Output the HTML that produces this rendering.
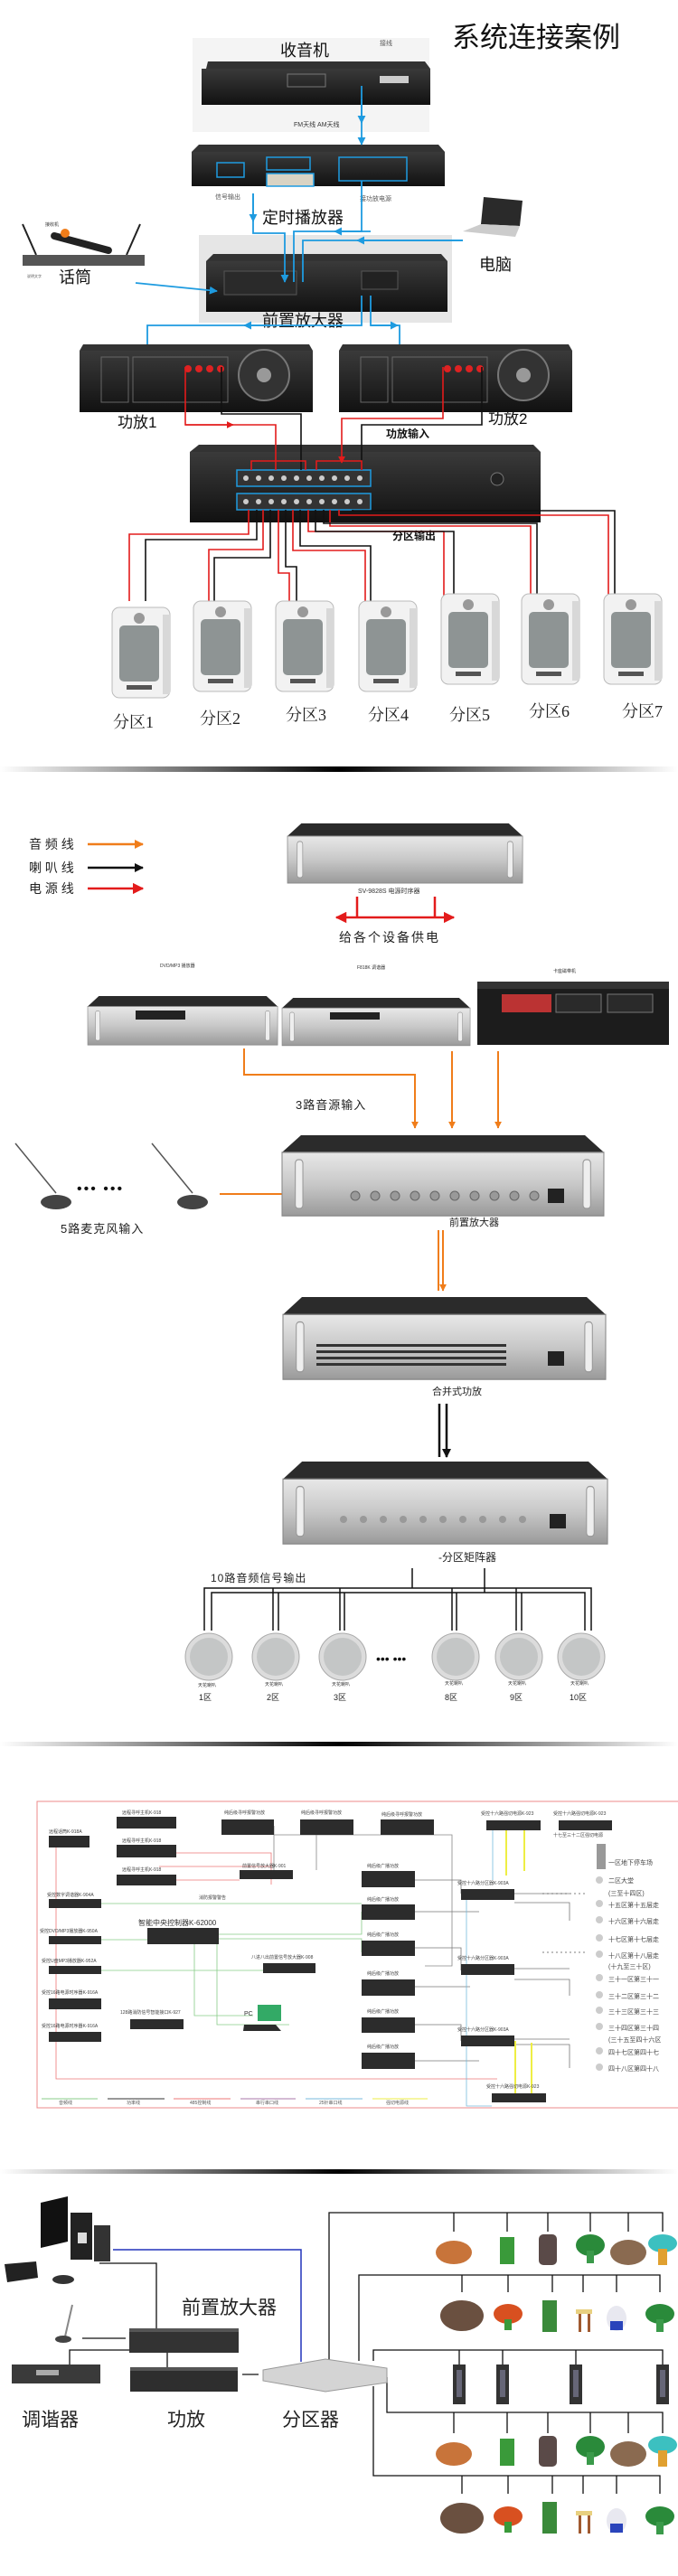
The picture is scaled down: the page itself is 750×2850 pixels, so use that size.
<!DOCTYPE html>
<html><head><meta charset="utf-8"><style>
html,body{margin:0;padding:0;background:#fff}
svg{display:block}
text{font-family:"Liberation Sans","Noto Sans CJK SC",sans-serif}
.s{font-family:"Liberation Serif","Noto Serif CJK SC",serif}
</style></head><body>
<svg width="750" height="2850" viewBox="0 0 750 2850" xmlns="http://www.w3.org/2000/svg">
<defs>
<linearGradient id="sep" x1="0" x2="1"><stop offset="0" stop-color="#fff"/><stop offset="0.5" stop-color="#000"/><stop offset="1" stop-color="#fff"/></linearGradient>
<linearGradient id="silver" x1="0" y1="0" x2="0" y2="1"><stop offset="0" stop-color="#e8e8e8"/><stop offset="0.5" stop-color="#c8c8c8"/><stop offset="1" stop-color="#9a9a9a"/></linearGradient>
<linearGradient id="dark" x1="0" y1="0" x2="0" y2="1"><stop offset="0" stop-color="#3a3a3a"/><stop offset="1" stop-color="#111"/></linearGradient>
<marker id="ab" viewBox="0 0 10 10" refX="9" refY="5" markerWidth="5" markerHeight="5" orient="auto"><path d="M0,0L10,5L0,10z" fill="#1e9be0"/></marker>
<marker id="ar" viewBox="0 0 10 10" refX="9" refY="5" markerWidth="5" markerHeight="5" orient="auto"><path d="M0,0L10,5L0,10z" fill="#e31b1b"/></marker>
<marker id="ao" viewBox="0 0 10 10" refX="9" refY="5" markerWidth="4" markerHeight="4" orient="auto"><path d="M0,0L10,5L0,10z" fill="#f07d1a"/></marker>
<marker id="ak" viewBox="0 0 10 10" refX="9" refY="5" markerWidth="4" markerHeight="4" orient="auto"><path d="M0,0L10,5L0,10z" fill="#111"/></marker>
<g id="spk"><rect x="0" y="0" width="64" height="100" rx="8" fill="#f2f2f2" stroke="#bbb"/><rect x="8" y="20" width="44" height="62" rx="5" fill="#8e9494"/><circle cx="30" cy="12" r="6" fill="#999"/><rect x="16" y="86" width="28" height="5" fill="#555"/><rect x="56" y="8" width="8" height="88" fill="#d8d8d8"/></g>
<g id="silverRack"><polygon points="20,0 320,0 340,14 0,14" fill="#2b2b2b"/><rect x="0" y="14" width="340" height="52" fill="url(#silver)" stroke="#888"/><rect x="14" y="20" width="8" height="40" rx="3" fill="#eee" stroke="#999"/><rect x="318" y="20" width="8" height="40" rx="3" fill="#eee" stroke="#999"/></g>
<g id="ceil"><circle r="26" fill="#dcdcdc" stroke="#aaa"/><circle r="21" fill="#c4c6c6"/></g>
</defs>

<!-- ===== Section 1 ===== -->
<text x="500" y="52" font-size="31" fill="#111">系统连接案例</text>
<rect x="213" y="42" width="262" height="104" fill="#f4f4f4"/>
<text x="310" y="62" font-size="18" fill="#111">收音机</text>
<text x="420" y="50" font-size="7" fill="#555">接线</text>
<polygon points="230,68 470,68 476,76 228,76" fill="#333"/>
<rect x="223" y="76" width="253" height="40" fill="url(#dark)"/>
<rect x="318" y="82" width="42" height="14" fill="none" stroke="#777"/>
<rect x="420" y="84" width="32" height="8" fill="#ccc"/>
<text x="325" y="140" font-size="7" fill="#333">FM天线  AM天线</text>
<polygon points="220,160 485,160 492,168 212,168" fill="#333"/>
<rect x="212" y="168" width="280" height="38" fill="url(#dark)"/>
<rect x="295" y="174" width="48" height="14" fill="none" stroke="#1e9be0" stroke-width="1.5"/>
<rect x="295" y="192" width="52" height="14" fill="#d9d3c3" stroke="#1e9be0" stroke-width="1.5"/>
<rect x="375" y="174" width="75" height="26" fill="none" stroke="#1e9be0" stroke-width="1.5"/>
<rect x="240" y="180" width="30" height="16" fill="none" stroke="#1e9be0" stroke-width="1.5"/>
<text x="238" y="220" font-size="7" fill="#555">信号输出</text>
<text x="398" y="222" font-size="7" fill="#555">接功放电源</text>
<text x="290" y="247" font-size="18" fill="#111">定时播放器</text>
<rect x="220" y="260" width="280" height="97" fill="#e6e6e6"/>
<polygon points="236,281 488,281 495,289 228,289" fill="#333"/>
<rect x="228" y="289" width="267" height="56" fill="url(#dark)"/>
<rect x="248" y="300" width="80" height="26" fill="#2a2a2a" stroke="#555"/>
<rect x="400" y="300" width="40" height="20" fill="#222" stroke="#555"/>
<text x="290" y="361" font-size="18" fill="#111">前置放大器</text>
<!-- mic receiver -->
<line x1="25" y1="248" x2="40" y2="282" stroke="#222" stroke-width="2"/>
<line x1="155" y1="248" x2="140" y2="282" stroke="#222" stroke-width="2"/>
<rect x="25" y="282" width="135" height="12" fill="#555"/>
<rect x="55" y="265" width="70" height="8" rx="4" fill="#222" transform="rotate(15 90 269)"/>
<circle cx="72" cy="258" r="5" fill="#f07d1a"/>
<text x="50" y="250" font-size="5" fill="#333">接收机</text>
<text x="65" y="313" font-size="18" fill="#111">话筒</text>
<text x="30" y="307" font-size="4" fill="#555">说明文字</text>
<!-- laptop -->
<polygon points="535,218 578,222 575,250 532,248" fill="#2a2a2a"/>
<polygon points="512,256 532,248 575,250 570,262" fill="#ccc"/>
<text x="530" y="299" font-size="18" fill="#111">电脑</text>
<!-- blue wiring -->
<g stroke="#1e9be0" stroke-width="1.8" fill="none">
<path d="M400,95V160" marker-end="url(#ab)"/><path d="M400,110V136" marker-end="url(#ab)"/>
<path d="M280,214V258H315V312" marker-end="url(#ab)"/>
<path d="M280,214V245" marker-end="url(#ab)"/>
<path d="M400,200V256H325V312"/>
<path d="M512,266H335V312"/>
<path d="M150,313L240,322" marker-end="url(#ab)"/>
<path d="M400,327V360H163V405"/><path d="M300,360H270" marker-end="url(#ab)"/>
<path d="M410,327V360H442V405"/><path d="M410,360H440" marker-end="url(#ab)"/>
<path d="M410,256H370" marker-end="url(#ab)"/><path d="M512,266H395" marker-end="url(#ab)"/>
</g>
<!-- amps -->
<g>
<polygon points="92,381 342,381 346,388 88,388" fill="#333"/>
<rect x="88" y="388" width="258" height="68" fill="url(#dark)"/>
<rect x="112" y="395" width="30" height="50" fill="none" stroke="#666"/>
<rect x="147" y="395" width="105" height="50" fill="none" stroke="#666"/>
<circle cx="208" cy="408" r="4" fill="#d22"/><circle cx="220" cy="408" r="4" fill="#d22"/><circle cx="232" cy="408" r="4" fill="#d22"/><circle cx="244" cy="408" r="4" fill="#d22"/>
<circle cx="292" cy="415" r="28" fill="#333" stroke="#777" stroke-width="2"/><circle cx="292" cy="415" r="8" fill="#999"/>
</g>
<g transform="translate(287,0)">
<polygon points="92,381 342,381 346,388 88,388" fill="#333"/>
<rect x="88" y="388" width="258" height="68" fill="url(#dark)"/>
<rect x="112" y="395" width="30" height="50" fill="none" stroke="#666"/>
<rect x="147" y="395" width="105" height="50" fill="none" stroke="#666"/>
<circle cx="208" cy="408" r="4" fill="#d22"/><circle cx="220" cy="408" r="4" fill="#d22"/><circle cx="232" cy="408" r="4" fill="#d22"/><circle cx="244" cy="408" r="4" fill="#d22"/>
<circle cx="292" cy="415" r="28" fill="#333" stroke="#777" stroke-width="2"/><circle cx="292" cy="415" r="8" fill="#999"/>
</g>
<text x="130" y="473" font-size="17" fill="#111">功放1</text>
<text x="540" y="469" font-size="17" fill="#111">功放2</text>
<text x="427" y="484" font-size="12" font-weight="bold" fill="#111">功放输入</text>
<!-- zone box -->
<polygon points="220,492 590,492 598,500 210,500" fill="#333"/>
<rect x="210" y="500" width="388" height="78" fill="url(#dark)"/>
<rect x="262" y="520" width="148" height="18" fill="#333" stroke="#1e9be0" stroke-width="1.5"/>
<rect x="262" y="546" width="148" height="18" fill="#333" stroke="#1e9be0" stroke-width="1.5"/>
<g fill="#ccc"><circle cx="272" cy="529" r="3"/><circle cx="286" cy="529" r="3"/><circle cx="300" cy="529" r="3"/><circle cx="314" cy="529" r="3"/><circle cx="328" cy="529" r="3"/><circle cx="342" cy="529" r="3"/><circle cx="356" cy="529" r="3"/><circle cx="370" cy="529" r="3"/><circle cx="384" cy="529" r="3"/><circle cx="398" cy="529" r="3"/>
<circle cx="272" cy="555" r="3"/><circle cx="286" cy="555" r="3"/><circle cx="300" cy="555" r="3"/><circle cx="314" cy="555" r="3"/><circle cx="328" cy="555" r="3"/><circle cx="342" cy="555" r="3"/><circle cx="356" cy="555" r="3"/><circle cx="370" cy="555" r="3"/><circle cx="384" cy="555" r="3"/><circle cx="398" cy="555" r="3"/></g>
<circle cx="550" cy="530" r="7" fill="#222" stroke="#777"/>
<text x="434" y="597" font-size="12" font-weight="bold" fill="#111">分区输出</text>
<!-- amp->zone -->
<g fill="none" stroke-width="1.6">
<path d="M205,406V470H305V520" stroke="#e31b1b"/><path d="M205,470H258" stroke="#e31b1b" marker-end="url(#ar)"/>
<path d="M245,406V458H333V520" stroke="#111"/>
<path d="M490,406V463H378V512" stroke="#e31b1b" marker-end="url(#ar)"/>
<path d="M533,406V470H400V520" stroke="#111"/>
<path d="M278,520V510H338V520M350,520V510H400V520" stroke="#e31b1b"/>
</g>
<!-- zone->speakers -->
<g fill="none" stroke-width="1.6">
<path d="M275,564V591H143V665" stroke="#e31b1b"/><path d="M284,564V597H161V665" stroke="#111"/>
<path d="M291,564V608H231V672" stroke="#e31b1b"/><path d="M299,564V617H237V672" stroke="#111"/>
<path d="M308,564V634H320V678" stroke="#e31b1b"/><path d="M316,564V627H328V678" stroke="#111"/>
<path d="M324,564V609H404V678" stroke="#e31b1b"/><path d="M332,564V604H410V678" stroke="#111"/>
<path d="M341,564V588H491V665" stroke="#e31b1b"/><path d="M349,564V588H502V665" stroke="#111"/>
<path d="M365,564V582H587V665" stroke="#e31b1b"/><path d="M358,564V579H594V665" stroke="#111"/>
<path d="M375,564V570H673V665" stroke="#e31b1b"/><path d="M390,564V565H680V665" stroke="#111"/>
</g>
<use href="#spk" x="124" y="672"/><use href="#spk" x="214" y="665"/><use href="#spk" x="305" y="665"/><use href="#spk" x="397" y="665"/><use href="#spk" x="488" y="657"/><use href="#spk" x="577" y="657"/><use href="#spk" x="668" y="657"/>
<g class="s" font-size="18" fill="#222">
<text x="125" y="805" class="s">分区1</text><text x="221" y="801" class="s">分区2</text><text x="316" y="797" class="s">分区3</text><text x="407" y="797" class="s">分区4</text><text x="497" y="797" class="s">分区5</text><text x="585" y="793" class="s">分区6</text><text x="688" y="793" class="s">分区7</text>
</g>
<rect x="0" y="848" width="750" height="6" fill="url(#sep)"/>

<!-- ===== Section 2 ===== -->
<g font-size="14" fill="#222">
<text x="32" y="939">音 频 线</text><text x="32" y="965">喇 叭 线</text><text x="32" y="988">电 源 线</text>
</g>
<line x1="97" y1="934" x2="158" y2="934" stroke="#f07d1a" stroke-width="2.5" marker-end="url(#ao)"/>
<line x1="97" y1="960" x2="158" y2="960" stroke="#111" stroke-width="2.5" marker-end="url(#ak)"/>
<line x1="97" y1="983" x2="158" y2="983" stroke="#e31b1b" stroke-width="2.5" marker-end="url(#ar)"/>
<use href="#silverRack" transform="translate(318,911) scale(0.765,1)"/>
<text x="396" y="988" font-size="7" fill="#333">SV-9828S  电源时序器</text>
<g stroke="#e31b1b" stroke-width="2.5" fill="none"><path d="M395,992V1015M481,992V1015"/><path d="M438,1015H372" marker-end="url(#ar)"/><path d="M438,1015H502" marker-end="url(#ar)"/></g>
<text x="375" y="1042" font-size="14" fill="#222" letter-spacing="2">给各个设备供电</text>
<use href="#silverRack" transform="translate(97,1102) scale(0.618,0.82)"/>
<rect x="150" y="1118" width="55" height="10" fill="#222"/>
<use href="#silverRack" transform="translate(312,1104) scale(0.612,0.8)"/>
<rect x="365" y="1120" width="55" height="8" fill="#222"/>
<rect x="528" y="1086" width="212" height="8" fill="#333"/><rect x="528" y="1094" width="212" height="62" fill="#1c1c1c"/>
<rect x="555" y="1100" width="55" height="20" fill="#b33"/><rect x="615" y="1100" width="50" height="20" fill="#2a2a2a" stroke="#777"/><rect x="672" y="1100" width="50" height="20" fill="#2a2a2a" stroke="#777"/>
<g font-size="5" fill="#333"><text x="177" y="1070">DVD/MP3 播放器</text><text x="395" y="1072">F818K 调谐器</text><text x="612" y="1076">卡座磁带机</text></g>
<g stroke="#f07d1a" stroke-width="2" fill="none">
<path d="M270,1160V1189H459V1248" marker-end="url(#ao)"/><path d="M500,1163V1248" marker-end="url(#ao)"/><path d="M551,1163V1248" marker-end="url(#ao)"/>
<path d="M243,1321H363" marker-end="url(#ao)"/>
<path d="M485,1361V1428M490,1361V1428" marker-end="url(#ao)"/>
</g>
<text x="327" y="1227" font-size="13" fill="#222" letter-spacing="1">3路音源输入</text>
<use href="#silverRack" transform="translate(312,1256) scale(1.047,1.35)"/>
<g fill="#999" stroke="#666"><circle cx="393" cy="1323" r="5"/><circle cx="415" cy="1323" r="5"/><circle cx="437" cy="1323" r="5"/><circle cx="459" cy="1323" r="5"/><circle cx="481" cy="1323" r="5"/><circle cx="503" cy="1323" r="5"/><circle cx="525" cy="1323" r="5"/><circle cx="547" cy="1323" r="5"/><circle cx="569" cy="1323" r="5"/><circle cx="591" cy="1323" r="5"/></g>
<rect x="606" y="1315" width="18" height="16" fill="#222"/>
<text x="497" y="1356" font-size="11" fill="#222">前置放大器</text>
<g><line x1="17" y1="1265" x2="62" y2="1320" stroke="#555" stroke-width="1.5"/><ellipse cx="62" cy="1330" rx="17" ry="8" fill="#444"/>
<line x1="168" y1="1265" x2="213" y2="1320" stroke="#555" stroke-width="1.5"/><ellipse cx="213" cy="1330" rx="17" ry="8" fill="#444"/></g>
<text x="85" y="1320" font-size="16" fill="#111" letter-spacing="2">•••  •••</text>
<text x="67" y="1364" font-size="13" fill="#222" letter-spacing="1">5路麦克风输入</text>
<use href="#silverRack" transform="translate(313,1435) scale(1.05,1.38)"/>
<g fill="#333"><rect x="350" y="1487" width="210" height="3"/><rect x="350" y="1494" width="210" height="3"/><rect x="350" y="1501" width="210" height="3"/><rect x="350" y="1508" width="210" height="3"/></g>
<rect x="606" y="1495" width="18" height="16" fill="#222"/>
<text x="478" y="1543" font-size="11" fill="#222">合并式功放</text>
<g stroke="#111" stroke-width="2.5" fill="none"><path d="M486,1553V1612M494,1553V1612" marker-end="url(#ak)"/></g>
<use href="#silverRack" transform="translate(313,1617) scale(1.056,1.38)"/>
<g fill="#999"><circle cx="380" cy="1681" r="4"/><circle cx="402" cy="1681" r="4"/><circle cx="424" cy="1681" r="4"/><circle cx="446" cy="1681" r="4"/><circle cx="468" cy="1681" r="4"/><circle cx="490" cy="1681" r="4"/><circle cx="512" cy="1681" r="4"/><circle cx="534" cy="1681" r="4"/><circle cx="556" cy="1681" r="4"/><circle cx="578" cy="1681" r="4"/></g>
<rect x="608" y="1675" width="18" height="16" fill="#222"/>
<text x="485" y="1727" font-size="12" fill="#222">-分区矩阵器</text>
<text x="233" y="1750" font-size="12" fill="#222" letter-spacing="1">10路音频信号输出</text>
<g stroke="#111" stroke-width="1.5" fill="none">
<path d="M456,1735V1757M536,1735V1762"/>
<path d="M226,1804V1757H654V1804M234,1804V1762H647V1804"/>
<path d="M302,1757V1804M308,1762V1804M376,1757V1804M381,1762V1804M500,1757V1804M505,1762V1804M571,1757V1804M577,1762V1804"/>
</g>
<use href="#ceil" x="231" y="1833"/><use href="#ceil" x="305" y="1833"/><use href="#ceil" x="379" y="1833"/><use href="#ceil" x="504" y="1833"/><use href="#ceil" x="574" y="1833"/><use href="#ceil" x="643" y="1833"/>
<text x="416" y="1840" font-size="14" fill="#111">••• •••</text>
<g font-size="5" fill="#333"><text x="219" y="1866">天花喇叭</text><text x="293" y="1865">天花喇叭</text><text x="367" y="1865">天花喇叭</text><text x="492" y="1864">天花喇叭</text><text x="562" y="1864">天花喇叭</text><text x="631" y="1864">天花喇叭</text></g>
<g font-size="9" fill="#222"><text x="220" y="1881">1区</text><text x="295" y="1881">2区</text><text x="369" y="1881">3区</text><text x="492" y="1881">8区</text><text x="564" y="1881">9区</text><text x="630" y="1881">10区</text></g>
<rect x="0" y="1927" width="750" height="5" fill="url(#sep)"/>

<!-- ===== Section 3 ===== -->
<rect x="41" y="1993" width="720" height="339" fill="#fff" stroke="#e88" stroke-width="1"/>
<g stroke-width="0.8" fill="none">
<path d="M62,2038V2300H550" stroke="#e77"/>
<path d="M176,2050H300V2085M176,2065H300M176,2080H265" stroke="#e77"/>
<path d="M112,2106H400M112,2146H163M112,2180H300" stroke="#8c8"/>
<path d="M242,2140H400V2115M242,2145H400V2160M240,2150V2240H320M215,2151V2230H280" stroke="#8c8"/>
<path d="M303,2020V2069M350,2020V2069M303,2030H500V2175H470" stroke="#888"/>
<path d="M459,2080H510V2095M459,2115H530M459,2155H510V2180M459,2198H520M459,2240H510V2258M459,2280H530" stroke="#777"/>
<path d="M569,2095H630M569,2105H630V2125M569,2178H630M569,2190H630V2208M569,2256H630M569,2262H630V2288" stroke="#777"/>
<path d="M560,2025V2075M580,2025V2070" stroke="#ee4" stroke-width="2"/>
<path d="M570,2258V2325M588,2260V2325" stroke="#ee4" stroke-width="2"/>
<path d="M516,2100V2330H544M545,2020V2080" stroke="#7bd"/>
<path d="M600,2095H650M600,2160H650" stroke="#555" stroke-dasharray="2 3"/>
</g>
<g fill="#2c2c2c">
<rect x="54" y="2031" width="45" height="13"/><rect x="129" y="2010" width="66" height="13"/><rect x="129" y="2041" width="66" height="14"/><rect x="129" y="2074" width="66" height="12"/>
<rect x="54" y="2101" width="58" height="10"/><rect x="54" y="2142" width="58" height="9"/><rect x="54" y="2175" width="58" height="9"/><rect x="54" y="2211" width="58" height="12"/><rect x="54" y="2248" width="58" height="11"/>
<rect x="163" y="2133" width="79" height="18"/><rect x="265" y="2069" width="59" height="10"/><rect x="291" y="2172" width="58" height="11"/><rect x="144" y="2234" width="59" height="11"/>
<rect x="245" y="2013" width="58" height="17"/><rect x="332" y="2013" width="59" height="17"/><rect x="421" y="2013" width="59" height="17"/>
<rect x="400" y="2070" width="59" height="18"/><rect x="400" y="2107" width="59" height="17"/><rect x="400" y="2147" width="59" height="17"/><rect x="400" y="2190" width="59" height="18"/><rect x="400" y="2232" width="59" height="17"/><rect x="400" y="2271" width="59" height="18"/>
<rect x="538" y="2014" width="60" height="11"/><rect x="618" y="2014" width="59" height="11"/><rect x="510" y="2090" width="59" height="12"/><rect x="510" y="2173" width="59" height="12"/><rect x="510" y="2252" width="59" height="12"/><rect x="544" y="2316" width="60" height="10"/>
<rect x="285" y="2218" width="26" height="18" fill="#3a6"/><polygon points="270,2240 305,2240 311,2247 269,2247"/>
<rect x="660" y="2040" width="10" height="28" fill="#999"/>
</g>
<g font-size="5" fill="#444">
<text x="54" y="2028">远程话筒K-918A</text><text x="135" y="2007">远程寻呼主机K-918</text><text x="135" y="2038">远程寻呼主机K-918</text><text x="135" y="2070">远程寻呼主机K-918</text>
<text x="52" y="2098">受控数字调谐器K-904A</text><text x="44" y="2138">受控DVD/MP3播放器K-950A</text><text x="46" y="2171">受控U盘MP3播放器K-952A</text><text x="46" y="2206">受控16路电源时序器K-916A</text><text x="46" y="2243">受控16路电源时序器K-916A</text>
<text x="268" y="2066">前置信号放大器K-901</text><text x="278" y="2167">八进八出前置信号放大器K-908</text><text x="133" y="2228">128路消防信号智能接口K-927</text>
<text x="220" y="2101">消防报警警告</text>
<text x="248" y="2007">纯后级寻呼报警功放</text><text x="333" y="2007">纯后级寻呼报警功放</text><text x="422" y="2009">纯后级寻呼报警功放</text>
<text x="406" y="2066">纯后级广播功放</text><text x="406" y="2103">纯后级广播功放</text><text x="406" y="2142">纯后级广播功放</text><text x="406" y="2185">纯后级广播功放</text><text x="406" y="2227">纯后级广播功放</text><text x="406" y="2266">纯后级广播功放</text>
<text x="532" y="2008">受控十六路强切电源K-923</text><text x="612" y="2008">受控十六路强切电源K-923</text><text x="612" y="2032">十七至三十二区强切电源</text>
<text x="506" y="2085">受控十六路分区器K-903A</text><text x="506" y="2168">受控十六路分区器K-903A</text><text x="506" y="2247">受控十六路分区器K-903A</text><text x="538" y="2310">受控十六路强切电源K-923</text>
</g>
<text x="153" y="2130" font-size="8" fill="#333">智能中央控制器K-62000</text>
<text x="270" y="2230" font-size="7" fill="#333">PC</text>
<g font-size="7" fill="#444">
<text x="673" y="2063">一区地下停车场</text><text x="673" y="2083">二区大堂</text><text x="673" y="2097">(三至十四区)</text><text x="673" y="2110">十五区第十五层走</text><text x="673" y="2128">十六区第十六层走</text><text x="673" y="2148">十七区第十七层走</text><text x="673" y="2166">十八区第十八层走</text><text x="673" y="2178">(十九至三十区)</text><text x="673" y="2192">三十一区第三十一</text><text x="673" y="2211">三十二区第三十二</text><text x="673" y="2228">三十三区第三十三</text><text x="673" y="2246">三十四区第三十四</text><text x="673" y="2259">(三十五至四十六区</text><text x="673" y="2273">四十七区第四十七</text><text x="673" y="2291">四十八区第四十八</text>
</g>
<g fill="#ccc"><circle cx="663" cy="2080" r="4"/><circle cx="663" cy="2106" r="4"/><circle cx="663" cy="2124" r="4"/><circle cx="663" cy="2144" r="4"/><circle cx="663" cy="2162" r="4"/><circle cx="663" cy="2188" r="4"/><circle cx="663" cy="2207" r="4"/><circle cx="663" cy="2224" r="4"/><circle cx="663" cy="2242" r="4"/><circle cx="663" cy="2269" r="4"/><circle cx="663" cy="2287" r="4"/></g>
<g stroke-width="1"><line x1="46" y1="2322" x2="108" y2="2322" stroke="#8c8"/><line x1="119" y1="2322" x2="182" y2="2322" stroke="#333"/><line x1="192" y1="2322" x2="255" y2="2322" stroke="#e77"/><line x1="266" y1="2322" x2="327" y2="2322" stroke="#a7a"/><line x1="338" y1="2322" x2="401" y2="2322" stroke="#7bd"/><line x1="412" y1="2322" x2="473" y2="2322" stroke="#ee4"/></g>
<g font-size="5" fill="#555"><text x="65" y="2328">音频线</text><text x="140" y="2328">功率线</text><text x="210" y="2328">485控制线</text><text x="283" y="2328">串行串口线</text><text x="353" y="2328">25针串口线</text><text x="427" y="2328">强切电源线</text></g>
<rect x="0" y="2400" width="750" height="5" fill="url(#sep)"/>

<!-- ===== Section 4 ===== -->
<polygon points="45,2437 75,2430 75,2480 45,2487" fill="#111"/>
<rect x="78" y="2448" width="24" height="52" fill="#222"/><rect x="86" y="2470" width="10" height="12" fill="#ddd"/>
<rect x="104" y="2462" width="18" height="40" fill="#333"/>
<polygon points="5,2505 40,2502 42,2520 8,2525" fill="#222"/>
<ellipse cx="70" cy="2522" rx="12" ry="5" fill="#333"/>
<g stroke="#111" stroke-width="1.3" fill="none">
<path d="M110,2504H173V2576"/><path d="M91,2587H139"/><path d="M77,2616V2600H143"/><path d="M185,2603V2619"/><path d="M268,2627H286"/>
<path d="M364,2612V2448H733V2469M502,2448V2469M561,2448V2469M606,2448V2469M653,2448V2469M695,2448V2469"/>
<path d="M397,2612V2517H730V2536M511,2517V2536M562,2517V2536M611,2517V2536M645,2517V2536M682,2517V2536"/>
<path d="M413,2612V2600H733V2616M508,2600V2616M556,2600V2616M637,2600V2616"/>
<path d="M428,2630V2669H733V2692M502,2669V2692M561,2669V2692M606,2669V2692M653,2669V2692M695,2669V2692"/>
<path d="M413,2640V2739H730V2759M511,2739V2759M562,2739V2759M611,2739V2759M645,2739V2759M682,2739V2759"/>
</g>
<path d="M125,2489H333V2613" stroke="#2233bb" stroke-width="1.5" fill="none"/>
<line x1="80" y1="2550" x2="72" y2="2585" stroke="#888" stroke-width="2"/><ellipse cx="70" cy="2588" rx="9" ry="4" fill="#444"/>
<text x="201" y="2560" font-size="21" fill="#222">前置放大器</text>
<rect x="143" y="2576" width="121" height="27" fill="#333"/><rect x="143" y="2576" width="121" height="4" fill="#555"/>
<rect x="13" y="2616" width="98" height="21" fill="#3a3a3a"/><rect x="40" y="2622" width="25" height="6" fill="#aaa"/>
<rect x="144" y="2619" width="119" height="27" fill="#2e2e2e"/><rect x="144" y="2619" width="119" height="4" fill="#555"/>
<polygon points="291,2622 360,2610 428,2620 428,2636 360,2646 291,2634" fill="#d4d4d4" stroke="#999"/>
<g font-size="21" fill="#222"><text x="24" y="2684">调谐器</text><text x="185" y="2684">功放</text><text x="312" y="2684">分区器</text></g>
<!-- garden speakers -->
<g>
<ellipse cx="502" cy="2492" rx="20" ry="13" fill="#c8743a"/>
<rect x="553" y="2475" width="16" height="30" fill="#3a9a3a"/>
<rect x="596" y="2472" width="20" height="34" rx="5" fill="#5a4a48"/>
<ellipse cx="653" cy="2484" rx="16" ry="12" fill="#2a8a3a"/><rect x="649" y="2490" width="8" height="14" fill="#3a9a4a"/>
<ellipse cx="695" cy="2492" rx="20" ry="14" fill="#8a6a50"/>
<ellipse cx="733" cy="2482" rx="16" ry="10" fill="#3cc0c0"/><rect x="728" y="2488" width="10" height="18" fill="#e0a030"/>
</g>
<g>
<ellipse cx="511" cy="2562" rx="24" ry="17" fill="#6a5040"/>
<ellipse cx="562" cy="2560" rx="16" ry="11" fill="#d85020"/><rect x="558" y="2566" width="8" height="12" fill="#3a9a3a"/>
<rect x="600" y="2545" width="16" height="35" fill="#3a8a3a"/>
<rect x="637" y="2555" width="18" height="5" fill="#e8d080"/><rect x="640" y="2560" width="3" height="20" fill="#a05a30"/><rect x="650" y="2560" width="3" height="20" fill="#a05a30"/>
<ellipse cx="682" cy="2565" rx="11" ry="14" fill="#e8e8f0"/><rect x="675" y="2568" width="14" height="10" fill="#2a44bb"/>
<ellipse cx="730" cy="2560" rx="16" ry="11" fill="#2a8a3a"/><rect x="726" y="2566" width="8" height="14" fill="#3a9a4a"/>
</g>
<g fill="#333"><rect x="501" y="2616" width="14" height="44"/><rect x="549" y="2616" width="14" height="44"/><rect x="630" y="2616" width="14" height="44"/><rect x="726" y="2616" width="14" height="44"/></g>
<g fill="#667"><rect x="505" y="2622" width="6" height="30"/><rect x="553" y="2622" width="6" height="30"/><rect x="634" y="2622" width="6" height="30"/><rect x="730" y="2622" width="6" height="30"/></g>
<g>
<ellipse cx="502" cy="2715" rx="20" ry="13" fill="#c8743a"/>
<rect x="553" y="2698" width="16" height="30" fill="#3a9a3a"/>
<rect x="596" y="2695" width="20" height="34" rx="5" fill="#5a4a48"/>
<ellipse cx="653" cy="2707" rx="16" ry="12" fill="#2a8a3a"/><rect x="649" y="2713" width="8" height="14" fill="#3a9a4a"/>
<ellipse cx="695" cy="2715" rx="20" ry="14" fill="#8a6a50"/>
<ellipse cx="733" cy="2705" rx="16" ry="10" fill="#3cc0c0"/><rect x="728" y="2711" width="10" height="18" fill="#e0a030"/>
</g>
<g>
<ellipse cx="511" cy="2786" rx="24" ry="17" fill="#6a5040"/>
<ellipse cx="562" cy="2784" rx="16" ry="11" fill="#d85020"/><rect x="558" y="2790" width="8" height="12" fill="#3a9a3a"/>
<rect x="600" y="2768" width="16" height="35" fill="#3a8a3a"/>
<rect x="637" y="2778" width="18" height="5" fill="#e8d080"/><rect x="640" y="2783" width="3" height="20" fill="#a05a30"/><rect x="650" y="2783" width="3" height="20" fill="#a05a30"/>
<ellipse cx="682" cy="2789" rx="11" ry="14" fill="#e8e8f0"/><rect x="675" y="2792" width="14" height="10" fill="#2a44bb"/>
<ellipse cx="730" cy="2784" rx="16" ry="11" fill="#2a8a3a"/><rect x="726" y="2790" width="8" height="14" fill="#3a9a4a"/>
</g>
</svg>
</body></html>
